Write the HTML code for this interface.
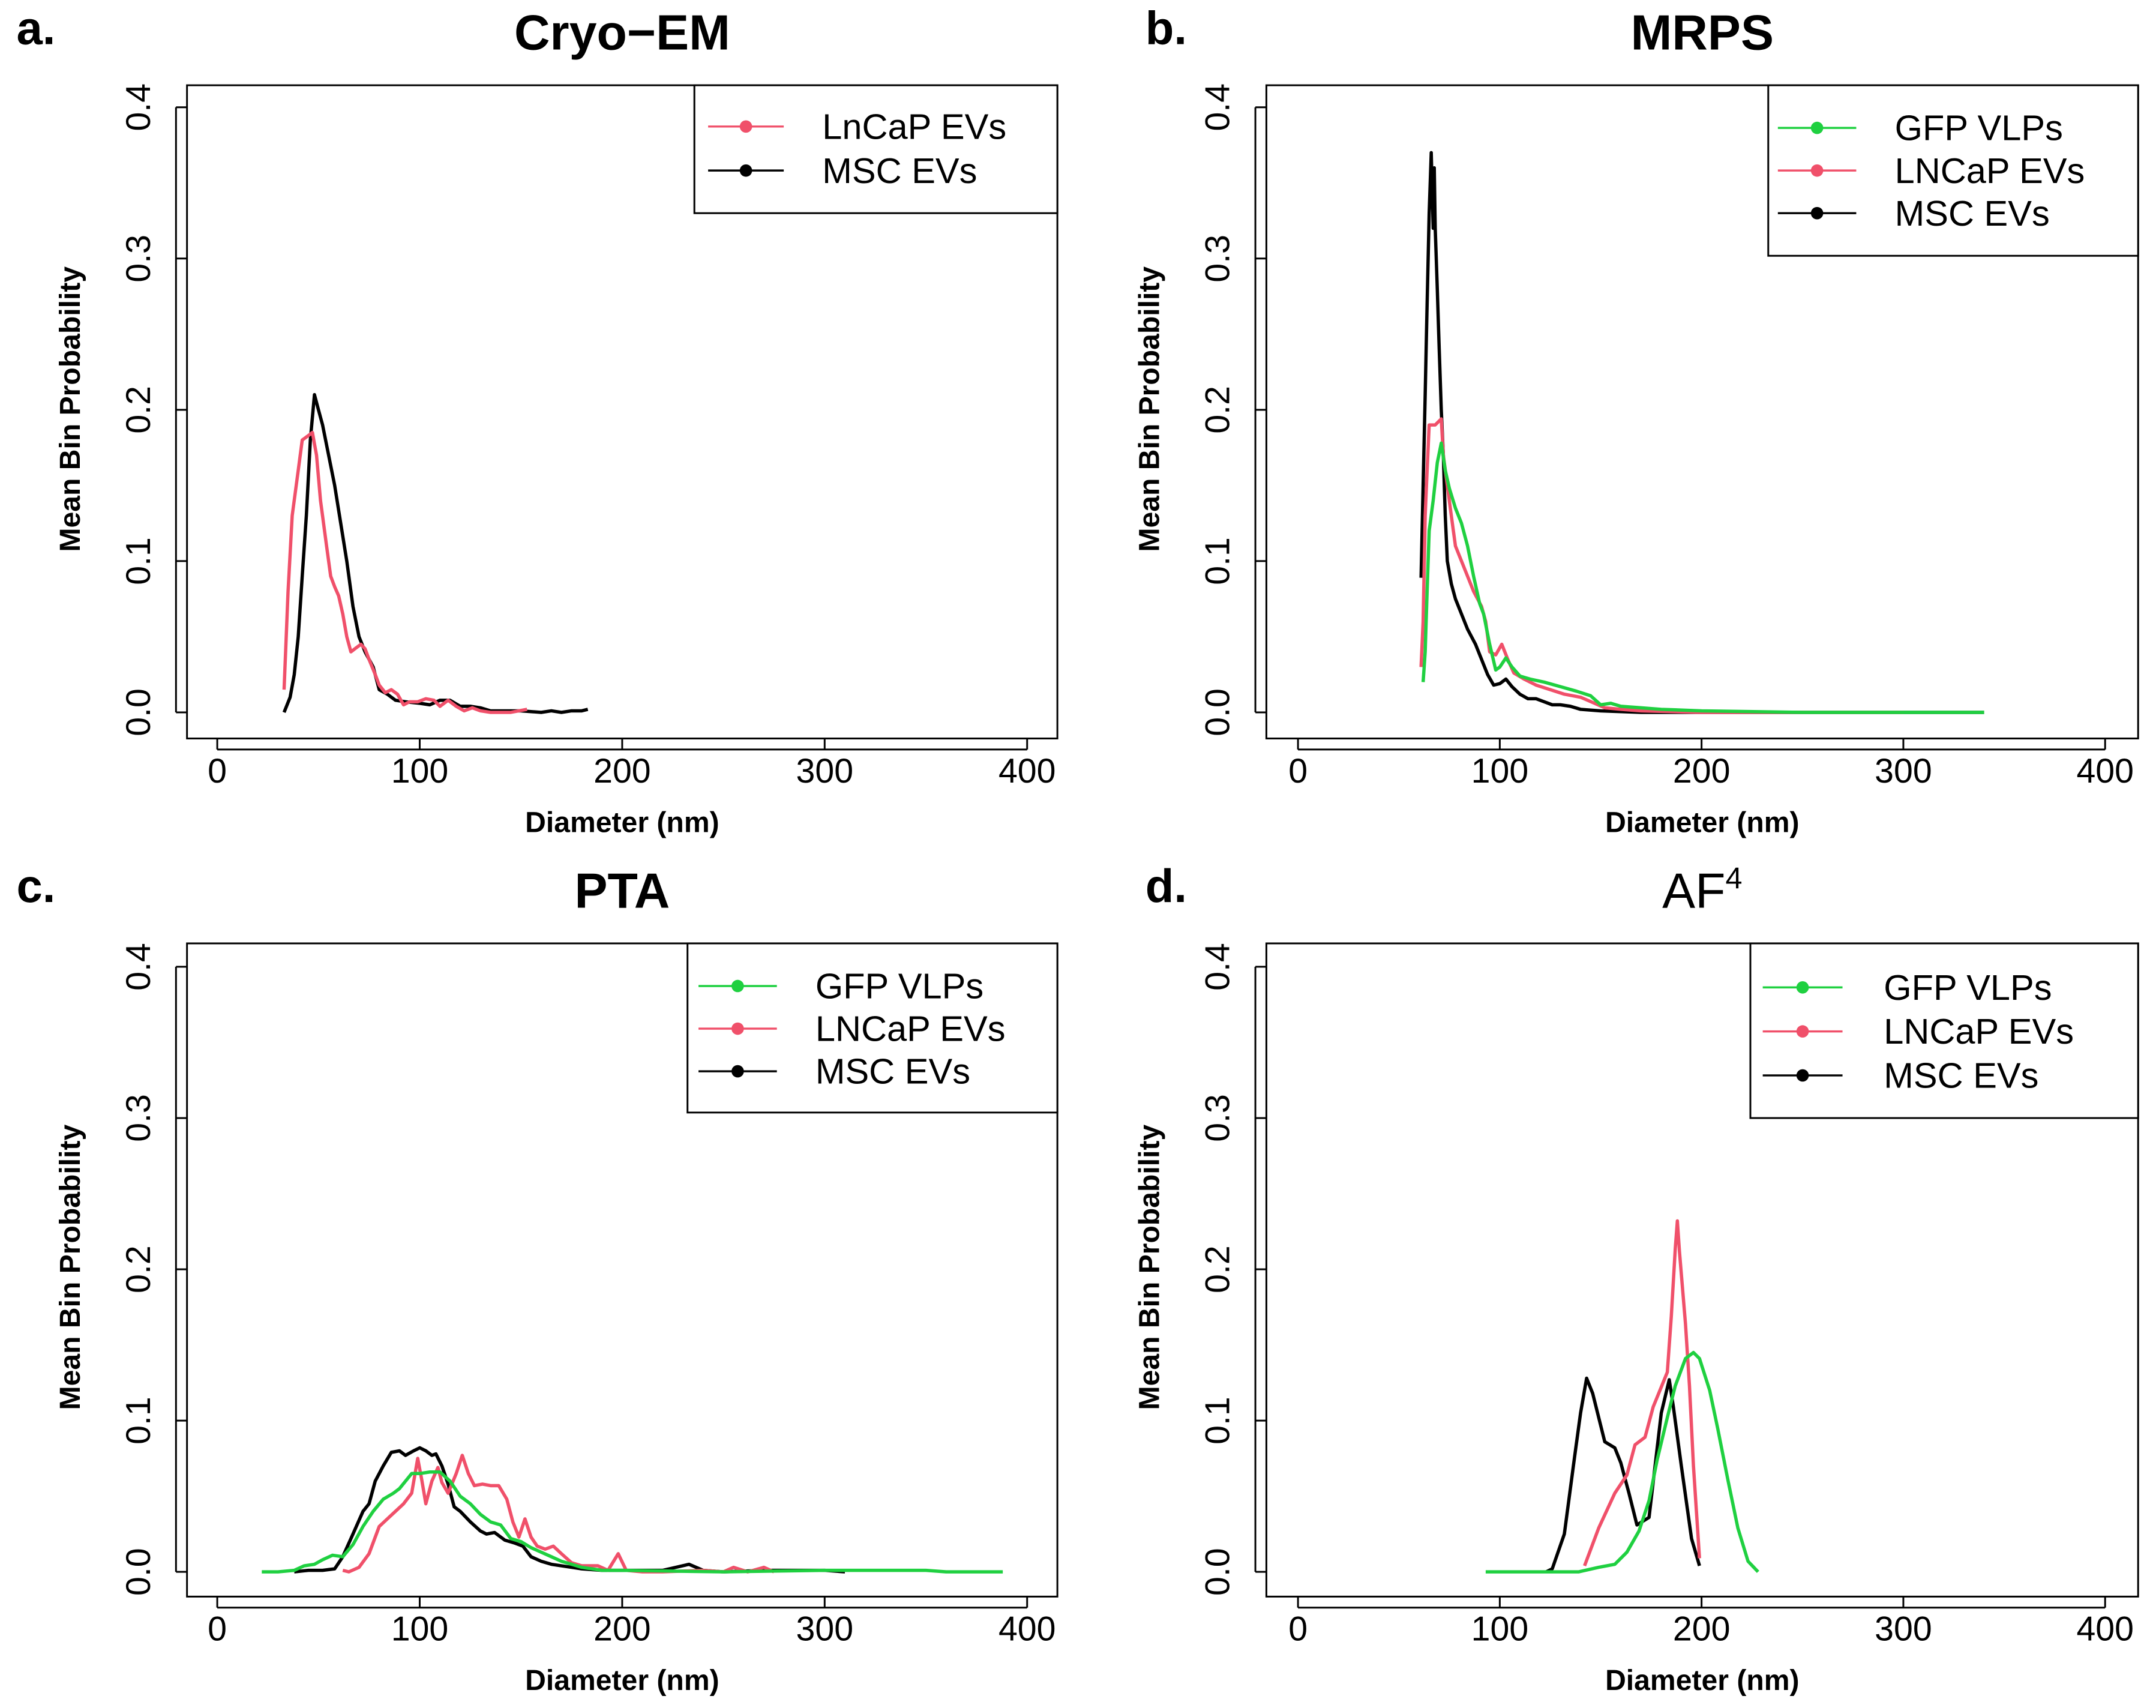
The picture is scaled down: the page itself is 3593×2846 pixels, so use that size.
<!DOCTYPE html>
<html><head><meta charset="utf-8"><style>
html,body{margin:0;padding:0;background:#fff;}
svg{display:block;}
text{font-family:"Liberation Sans",Arial,sans-serif;}
</style></head><body>
<svg id="fig" width="3593" height="2846" viewBox="0 0 1568 1242" xmlns="http://www.w3.org/2000/svg"></svg>
<script>
// ---- data (diameter nm, mean bin probability) ----
const aRedX=[33,35,37,40,42,45,47,49,51,54,56,58,60,62,64,66,68,71,73,75,78,80,83,86,89,92,95,99,103,107,110,114,118,122,126,130,135,145,153];
const aRedY=[0.015,0.08,0.13,0.16,0.18,0.183,0.185,0.17,0.14,0.11,0.09,0.083,0.077,0.065,0.05,0.04,0.042,0.045,0.042,0.035,0.025,0.018,0.013,0.015,0.012,0.005,0.007,0.007,0.009,0.008,0.004,0.008,0.004,0.001,0.003,0.001,0,0,0.002];
const aBlkX=[33,36,38,40,42,44,46,48,50,52,55,58,61,64,67,70,73,77,80,84,88,93,100,105,110,115,120,125,130,135,140,150,160,165,170,175,180,183];
const aBlkY=[0,0.01,0.025,0.05,0.09,0.13,0.18,0.21,0.2,0.19,0.17,0.15,0.125,0.1,0.07,0.05,0.04,0.03,0.015,0.012,0.008,0.007,0.006,0.005,0.008,0.008,0.004,0.004,0.003,0.001,0.001,0.001,0,0.001,0,0.001,0.001,0.002];

const bBlkX=[61,62,63,64,65,66,67,67.5,68,69,70,71,72,73,74,76,78,81,84,88,91,94,97,100,103,106,110,114,118,122,126,130,135,140,150,170,200,260,340];
const bBlkY=[0.089,0.15,0.21,0.27,0.33,0.37,0.32,0.36,0.32,0.28,0.24,0.2,0.17,0.13,0.1,0.085,0.075,0.065,0.055,0.045,0.035,0.025,0.018,0.019,0.022,0.017,0.012,0.009,0.009,0.007,0.005,0.005,0.004,0.002,0.001,0,0,0,0];
const bRedX=[61,62,63,64,65,68,71,72,74,76,78,81,84,87,91,93,95,98,101,104,107,112,118,125,132,140,147,152,160,170,200,260,300];
const bRedY=[0.03,0.06,0.13,0.16,0.19,0.19,0.194,0.17,0.15,0.13,0.11,0.1,0.09,0.08,0.07,0.06,0.04,0.038,0.045,0.035,0.026,0.022,0.018,0.015,0.012,0.01,0.006,0.003,0.002,0.001,0,0,0];
const bGrnX=[62,63,64,65,67,69,71,73,75,78,81,84,87,90,92,95,98,100,103,106,110,115,122,130,138,145,150,155,160,170,180,200,250,340];
const bGrnY=[0.02,0.04,0.08,0.12,0.14,0.165,0.178,0.16,0.148,0.135,0.125,0.11,0.09,0.072,0.065,0.045,0.028,0.03,0.036,0.03,0.024,0.022,0.02,0.017,0.014,0.011,0.005,0.006,0.004,0.003,0.002,0.001,0,0];

const cBlkX=[38,45,52,58,62,67,72,75,78,82,86,90,93,97,100,103,106,108,111,114,117,120,125,130,133,137,142,147,151,155,160,165,170,175,180,190,200,220,233,240,250,270,290,300,310];
const cBlkY=[0,0.001,0.001,0.002,0.01,0.025,0.04,0.045,0.06,0.07,0.079,0.08,0.077,0.08,0.082,0.08,0.077,0.078,0.07,0.058,0.043,0.04,0.033,0.027,0.025,0.026,0.021,0.019,0.017,0.01,0.007,0.005,0.004,0.003,0.002,0.001,0.001,0.001,0.005,0.001,0,0.001,0.001,0.001,0];
const cRedX=[62,65,70,75,80,84,88,92,96,99,101,103,106,109,111,114,118,121,124,127,131,135,139,143,146,149,152,155,158,162,166,170,175,180,188,193,198,202,210,220,240,250,255,262,270,275];
const cRedY=[0.001,0,0.003,0.012,0.03,0.035,0.04,0.045,0.052,0.075,0.061,0.045,0.06,0.069,0.059,0.052,0.065,0.077,0.065,0.057,0.058,0.057,0.057,0.048,0.033,0.023,0.035,0.023,0.017,0.015,0.017,0.012,0.006,0.004,0.004,0.001,0.012,0.001,0,0,0.001,0,0.003,0,0.003,0];
const cGrnX=[22,30,38,43,48,52,57,62,67,72,77,82,87,90,96,100,105,110,115,120,125,130,135,140,145,150,155,160,165,170,175,180,190,200,250,300,350,360,388];
const cGrnY=[0,0,0.001,0.004,0.005,0.008,0.011,0.01,0.018,0.03,0.04,0.048,0.052,0.055,0.065,0.065,0.066,0.066,0.06,0.05,0.045,0.038,0.033,0.031,0.022,0.02,0.016,0.013,0.01,0.007,0.005,0.003,0.001,0.001,0,0.001,0.001,0,0];

const dBlkX=[123,126,132,137,140,143,146,152,157,160,164,168,174,180,184,186,190,195,199];
const dBlkY=[0,0.002,0.025,0.075,0.105,0.128,0.118,0.086,0.082,0.072,0.052,0.031,0.036,0.105,0.127,0.109,0.07,0.022,0.004];
const dRedX=[142,149,157,163,167,172,176,183,185,187,188,189,192,194,196,199];
const dRedY=[0.004,0.029,0.052,0.064,0.084,0.089,0.109,0.132,0.169,0.214,0.232,0.212,0.164,0.123,0.07,0.009];
const dGrnX=[93,102,110,123,139,149,157,163,169,174,178,183,187,192,196,199,204,208,213,218,223,228];
const dGrnY=[0,0,0,0,0,0.003,0.005,0.013,0.027,0.047,0.074,0.102,0.123,0.141,0.145,0.141,0.12,0.095,0.061,0.029,0.007,0];

const xTicks=[0,100,200,300,400];
const yTicks=[0,0.1,0.2,0.3,0.4];
const yTickLabels=["0.0","0.1","0.2","0.3","0.4"];

const RED="#F0506A", BLK="#000000", GRN="#1FD040";
const NS="http://www.w3.org/2000/svg";
const svg=document.getElementById('fig');
function mk(tag,attrs,parent){const e=document.createElementNS(NS,tag);for(const k in attrs)e.setAttribute(k,attrs[k]);(parent||svg).appendChild(e);return e;}

const panels=[
 {id:'a',letter:'a.',lx:12,title:'Cryo\u2212EM',box:[136,62,769,537],x0:158,x400:747,y0:518,y4:78,
  series:[{n:'msc-evs',c:BLK,x:aBlkX,y:aBlkY},{n:'lncap-evs',c:RED,x:aRedX,y:aRedY}],
  legend:{box:[505,62,769,155],ys:[92,124],lx:[515,570],tx:598,items:[['LnCaP EVs',RED],['MSC EVs',BLK]]}},
 {id:'b',letter:'b.',lx:833,title:'MRPS',box:[921,62,1555,537],x0:944,x400:1531,y0:518,y4:78,
  series:[{n:'msc-evs',c:BLK,x:bBlkX,y:bBlkY},{n:'lncap-evs',c:RED,x:bRedX,y:bRedY},{n:'gfp-vlps',c:GRN,x:bGrnX,y:bGrnY}],
  legend:{box:[1286,62,1555,186],ys:[93,124,155],lx:[1293,1350],tx:1378,items:[['GFP VLPs',GRN],['LNCaP EVs',RED],['MSC EVs',BLK]]}},
 {id:'c',letter:'c.',lx:12,title:'PTA',box:[136,686,769,1161],x0:158,x400:747,y0:1143,y4:703,
  series:[{n:'msc-evs',c:BLK,x:cBlkX,y:cBlkY},{n:'lncap-evs',c:RED,x:cRedX,y:cRedY},{n:'gfp-vlps',c:GRN,x:cGrnX,y:cGrnY}],
  legend:{box:[500,686,769,809],ys:[717,748,779],lx:[508,565],tx:593,items:[['GFP VLPs',GRN],['LNCaP EVs',RED],['MSC EVs',BLK]]}},
 {id:'d',letter:'d.',lx:833,title:'AF',sup:'4',box:[921,686,1555,1161],x0:944,x400:1531,y0:1143,y4:703,
  series:[{n:'msc-evs',c:BLK,x:dBlkX,y:dBlkY},{n:'lncap-evs',c:RED,x:dRedX,y:dRedY},{n:'gfp-vlps',c:GRN,x:dGrnX,y:dGrnY}],
  legend:{box:[1273,686,1555,813],ys:[718,750,782],lx:[1282,1340],tx:1370,items:[['GFP VLPs',GRN],['LNCaP EVs',RED],['MSC EVs',BLK]]}}
];

panels.forEach(p=>{
  const g=mk('g',{});
  
  
  const sx=v=>p.x0+(p.x400-p.x0)*v/400;
  const sy=v=>p.y0+(p.y4-p.y0)*v/0.4;
  const [L,T,R,B]=p.box, cx=(L+R)/2;
  const lt=mk('text',{x:p.lx,y:T-30,'font-size':34,'font-weight':'bold'},g);lt.textContent=p.letter;
  
  
  const tt=mk('text',{x:cx,y:T-26,'font-size':36,'font-weight':'bold','text-anchor':'middle'},g);
  
  
  if(p.sup){tt.textContent=p.title;const s=mk('tspan',{'font-size':22,dy:-14,'font-weight':'normal'},tt);s.textContent=p.sup;tt.setAttribute('font-weight','normal');}
  else tt.textContent=p.title;
  const fr=mk('rect',{x:L,y:T,width:R-L,height:B-T,fill:'none',stroke:'#000','stroke-width':1.3},g);
  
  
  xTicks.forEach(v=>{
    mk('line',{x1:sx(v),x2:sx(v),y1:B,y2:B+8,stroke:'#000','stroke-width':1.3},g);
    const t=mk('text',{x:sx(v),y:B+32,'font-size':25,'text-anchor':'middle'},g);t.textContent=v;
    
    
  });
  mk('line',{x1:sx(0),x2:sx(400),y1:B+8,y2:B+8,stroke:'#000','stroke-width':1.3},g);
  yTicks.forEach((v,i)=>{
    mk('line',{x1:L,x2:L-8,y1:sy(v),y2:sy(v),stroke:'#000','stroke-width':1.3},g);
    const tx=L-27;
    const t=mk('text',{x:tx,y:sy(v),'font-size':25,'text-anchor':'middle',transform:`rotate(-90 ${tx} ${sy(v)})`},g);t.textContent=yTickLabels[i];
    
    
  });
  mk('line',{x1:L-8,x2:L-8,y1:sy(0),y2:sy(0.4),stroke:'#000','stroke-width':1.3},g);
  const xt=mk('text',{x:cx,y:B+68,'font-size':21,'font-weight':'bold','text-anchor':'middle'},g);xt.textContent='Diameter (nm)';
  
  
  const yc=(T+B)/2-2;
  const yx=L-78;
  const yt=mk('text',{x:yx,y:yc,'font-size':21,'font-weight':'bold','text-anchor':'middle',transform:`rotate(-90 ${yx} ${yc})`},g);yt.textContent='Mean Bin Probability';
  
  
  p.series.forEach(s=>{
    const d=s.x.map((v,i)=>(i?'L':'M')+sx(v).toFixed(1)+','+sy(s.y[i]).toFixed(1)).join(' ');
    const pa=mk('path',{d:d,fill:'none',stroke:s.c,'stroke-width':2.4,'stroke-linejoin':'round'},g);
    
    
  });
  const lg=p.legend;
  const lgG=mk('g',{},g);
  
  
  mk('rect',{x:lg.box[0],y:lg.box[1],width:lg.box[2]-lg.box[0],height:lg.box[3]-lg.box[1],fill:'#fff',stroke:'#000','stroke-width':1.3},lgG);
  lg.items.forEach((it,i)=>{
    const e=mk('g',{},lgG);
    
    
    mk('line',{x1:lg.lx[0],x2:lg.lx[1],y1:lg.ys[i],y2:lg.ys[i],stroke:it[1],'stroke-width':1.5},e);
    mk('circle',{cx:(lg.lx[0]+lg.lx[1])/2,cy:lg.ys[i],r:4.5,fill:it[1]},e);
    const t=mk('text',{x:lg.tx,y:lg.ys[i]+9,'font-size':26},e);t.textContent=it[0];
  });
});
</script>
</body></html>
